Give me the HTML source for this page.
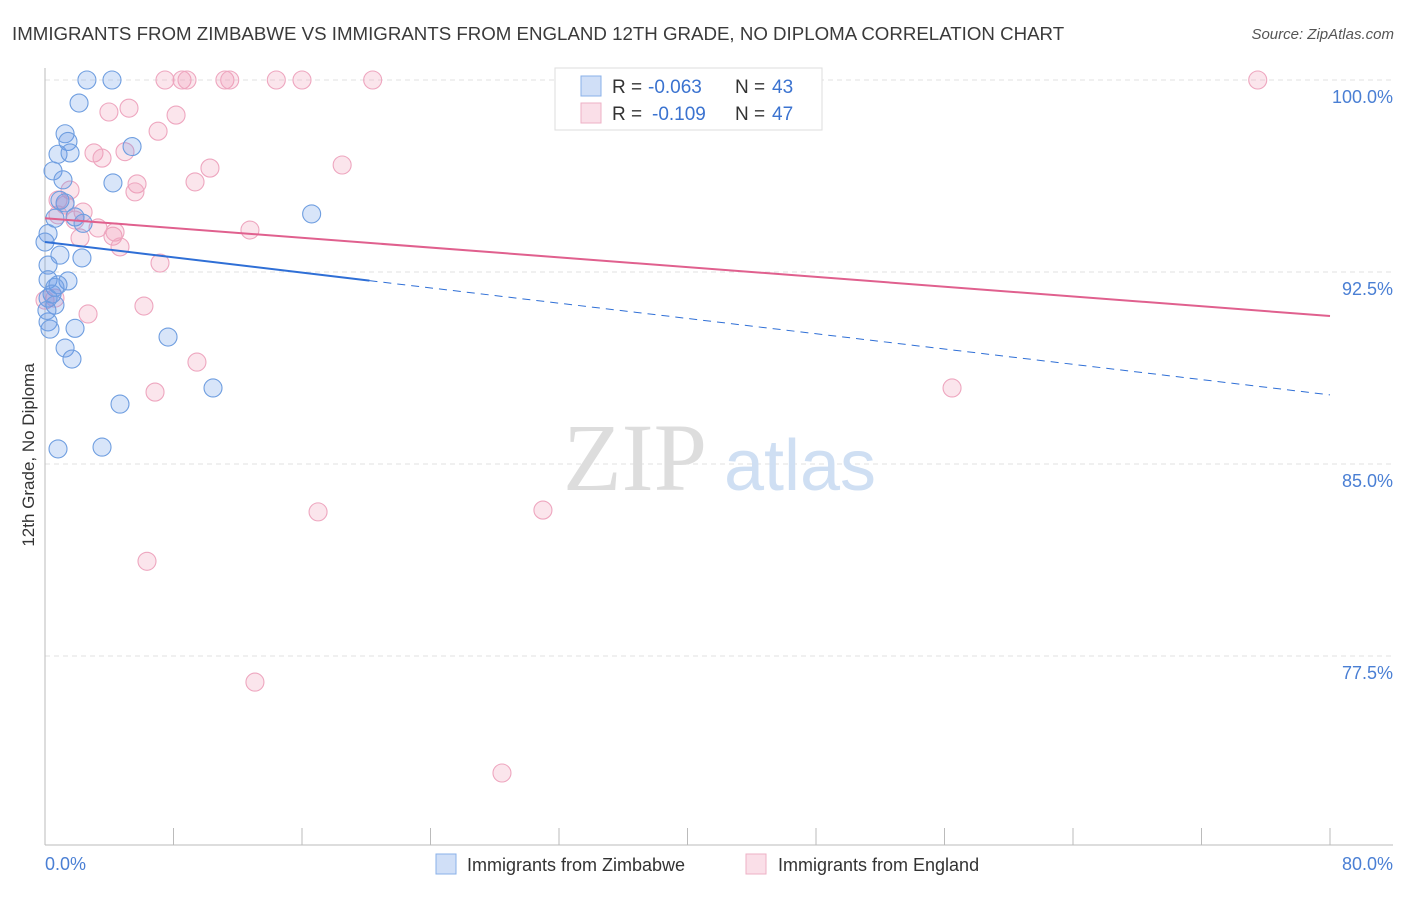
<!DOCTYPE html>
<html><head><meta charset="utf-8"><style>
body{margin:0;background:#fff;font-family:"Liberation Sans",sans-serif;}
</style></head><body>
<svg width="1406" height="892" xmlns="http://www.w3.org/2000/svg" style="font-family:'Liberation Sans',sans-serif">
<text x="12" y="40" font-size="18.7" fill="#3a3a3a">IMMIGRANTS FROM ZIMBABWE VS IMMIGRANTS FROM ENGLAND 12TH GRADE, NO DIPLOMA CORRELATION CHART</text>
<text x="1394" y="39" font-size="15" fill="#555" text-anchor="end" font-style="italic">Source: ZipAtlas.com</text>
<g id="grid"></g>
<g><text x="635" y="490" font-size="96" font-family="Liberation Serif,serif" fill="#ddd" text-anchor="middle">ZIP</text><text x="800" y="490" font-size="72" fill="#cfdff3" text-anchor="middle">atlas</text></g>
<g id="axes"></g>
<g id="pts"></g>
<g id="trends"></g>
<text transform="translate(34,455) rotate(-90)" font-size="17" fill="#333" text-anchor="middle">12th Grade, No Diploma</text>
<text x="45" y="870" font-size="18" fill="#4a7fd4">0.0%</text>
<text x="1393" y="870" font-size="18" fill="#4a7fd4" text-anchor="end">80.0%</text>
<g>
<rect x="555" y="68" width="267" height="62" fill="#fff" stroke="#ddd"/>
<rect x="581" y="76" width="20" height="20" fill="rgba(100,150,230,0.3)" stroke="#8ab0e8"/>
<rect x="581" y="103" width="20" height="20" fill="rgba(240,150,180,0.3)" stroke="#eeb0c6"/>
<text x="612" y="93" font-size="19" fill="#333">R =</text>
<text x="648" y="93" font-size="19" fill="#3b73d0">-0.063</text>
<text x="735" y="93" font-size="19" fill="#333">N =</text>
<text x="772" y="93" font-size="19" fill="#3b73d0">43</text>
<text x="612" y="120" font-size="19" fill="#333">R =</text>
<text x="652" y="120" font-size="19" fill="#3b73d0">-0.109</text>
<text x="735" y="120" font-size="19" fill="#333">N =</text>
<text x="772" y="120" font-size="19" fill="#3b73d0">47</text>
</g>
<g>
<rect x="436" y="854" width="20" height="20" fill="rgba(100,150,230,0.3)" stroke="#8ab0e8"/>
<text x="467" y="871" font-size="18" fill="#333">Immigrants from Zimbabwe</text>
<rect x="746" y="854" width="20" height="20" fill="rgba(240,150,180,0.3)" stroke="#eeb0c6"/>
<text x="778" y="871" font-size="18" fill="#333">Immigrants from England</text>
</g>
</svg>
<script>
const yTicks=[100,92.5,85,77.5];
const yTickLabels=["100.0%","92.5%","85.0%","77.5%"];
const xTicks=[8,16,24,32,40,48,56,64,72,80];
const blueX=[2.61,4.17,2.12,1.25,1.43,0.81,1.56,5.42,0.5,1.12,4.23,1.25,0.93,0.62,1.87,2.37,0.19,16.6,0.93,2.3,0.19,0.19,1.43,0.81,0.62,0.44,0.19,0.31,1.87,7.66,1.25,1.68,10.46,4.67,0.81,3.55,0.19,0,0.62,0.12];
const blueY=[100,100,99.1,97.9,97.6,97.1,97.15,97.4,96.45,96.1,95.98,95.2,95.3,94.6,94.65,94.4,94.0,94.77,93.16,93.05,92.77,92.2,92.15,92.0,91.9,91.64,90.55,90.27,90.3,89.96,89.53,89.1,87.97,87.34,85.59,85.66,91.48,93.67,91.21,91.0];
const pinkX=[7.47,8.53,8.84,11.2,11.5,14.4,16.0,20.4,33.0,75.5,3.98,5.23,8.16,7.04,3.05,3.55,4.98,18.5,10.27,9.34,5.73,5.6,1.56,0.81,1.25,2.37,1.87,12.76,3.3,4.23,4.36,2.18,4.67,7.16,6.16,2.68,0.62,0,9.46,6.85,56.47,17.0,31.0,6.35,13.07,28.45,0.81];
const pinkY=[100,100,100,100,100,100,100,100,100,100,98.75,98.9,98.63,98.0,97.15,96.95,97.2,96.68,96.56,96.02,95.94,95.63,95.7,95.31,95.12,94.84,94.53,94.14,94.22,93.9,94.06,93.83,93.48,92.85,91.17,90.86,91.48,91.4,88.98,87.81,87.97,83.13,83.2,81.2,76.48,72.93,94.73];
const blueTrend=[93.67,87.7]; const blueSolidEnd=20.2;
const pinkTrend=[94.6,90.78];
const NS='http://www.w3.org/2000/svg';
const xs=v=>45+v/80*1285, ys=v=>80+(100-v)/7.5*192;
function mk(t,a,p){const e=document.createElementNS(NS,t);for(const k in a)e.setAttribute(k,a[k]);p.appendChild(e);return e;}
const grid=document.getElementById('grid'),axes=document.getElementById('axes'),pts=document.getElementById('pts'),tr=document.getElementById('trends');
yTicks.forEach((v,i)=>{const l=mk('line',{x1:45,x2:1393,y1:ys(v),y2:ys(v),stroke:'#e2e2e2','stroke-dasharray':'5,4'},grid);

const t=mk('text',{x:1393,y:ys(v)+23,'font-size':18,fill:'#4a7fd4','text-anchor':'end'},grid);t.textContent=yTickLabels[i];
});
const ax=mk('line',{x1:45,x2:1393,y1:845,y2:845,stroke:'#bbb'},axes);

const ay=mk('line',{x1:45,x2:45,y1:68,y2:845,stroke:'#bbb'},axes);

xTicks.forEach(v=>{const l=mk('line',{x1:xs(v),x2:xs(v),y1:828,y2:845,stroke:'#bbb'},axes);
});
function dots(X,Y,f,s,n){X.forEach((x,i)=>{const c=mk('circle',{cx:xs(x),cy:ys(Y[i]),r:9,fill:f,stroke:s,'stroke-width':1.1},pts);
});}
dots(pinkX,pinkY,'rgba(240,150,180,0.25)','#eea6bf','england-point');
dots(blueX,blueY,'rgba(100,150,230,0.25)','#6f9ee0','zimbabwe-point');
const bAt=x=>blueTrend[0]+(blueTrend[1]-blueTrend[0])*x/80;
let l=mk('line',{x1:xs(0),y1:ys(blueTrend[0]),x2:xs(blueSolidEnd),y2:ys(bAt(blueSolidEnd)),stroke:'#2f6fd6','stroke-width':2},tr);

l=mk('line',{x1:xs(blueSolidEnd),y1:ys(bAt(blueSolidEnd)),x2:xs(80),y2:ys(blueTrend[1]),stroke:'#2f6fd6','stroke-width':1,'stroke-dasharray':'8,6'},tr);

l=mk('line',{x1:xs(0),y1:ys(pinkTrend[0]),x2:xs(80),y2:ys(pinkTrend[1]),stroke:'#e0608e','stroke-width':2},tr);

</script>
</body></html>
